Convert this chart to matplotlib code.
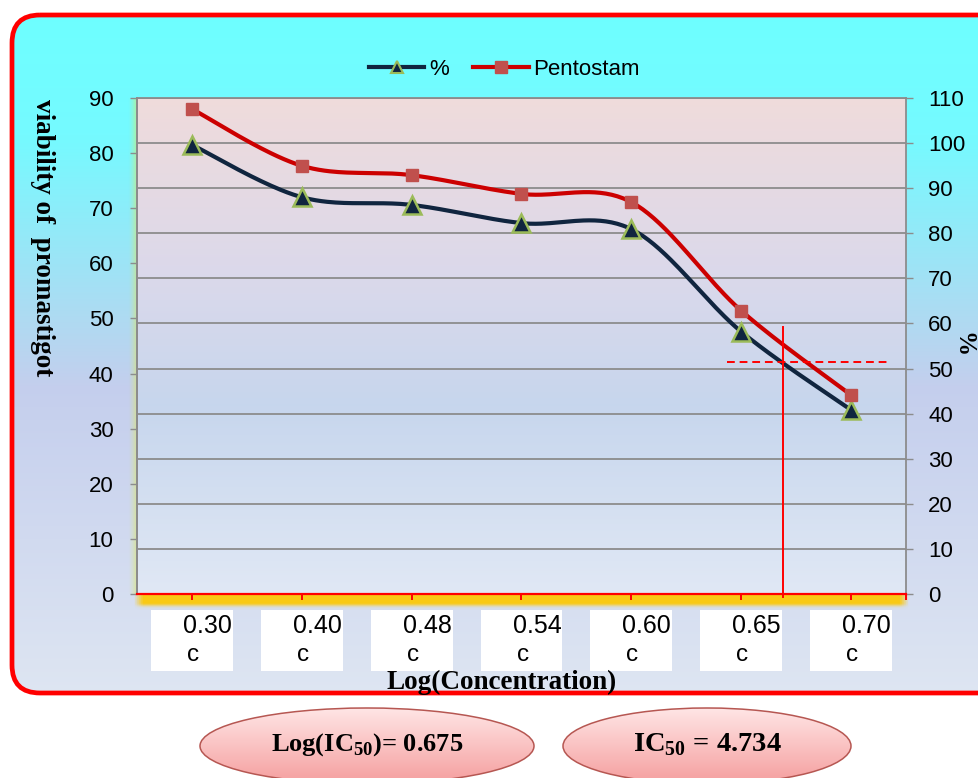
import numpy as np
import matplotlib
matplotlib.use("Agg")
import matplotlib.pyplot as plt
from matplotlib.patches import FancyBboxPatch, Ellipse, Rectangle
from matplotlib.lines import Line2D

plt.rcParams["font.family"] = ["Liberation Sans", "DejaVu Sans"]
plt.rcParams["mathtext.fontset"] = "custom"
plt.rcParams["mathtext.rm"] = "Liberation Serif:bold"
plt.rcParams["mathtext.bf"] = "Liberation Serif:bold"

# ---- data -------------------------------------------------------------
log_conc = ["0.30", "0.40", "0.48", "0.54", "0.60", "0.65", "0.70"]
viability = [81.5, 72.0, 70.6, 67.3, 66.2, 47.6, 33.4]        # "%" series
pentostam = [88.0, 77.7, 76.0, 72.6, 71.1, 51.4, 36.1]        # Pentostam series
left_ticks = list(range(0, 91, 10))
right_ticks = list(range(0, 111, 10))
half_level = 42.15          # viability level marked by the dashed line
log_ic50_text = "0.675"
ic50_text = "4.734"

NAVY = "#10253F"
RED = "#CC0000"
W, H = 979, 778


def smooth(xs, ys, n=40):
    """Catmull-Rom smoothing through the points (same scheme as a smoothed line)."""
    pts = np.column_stack([xs, ys]).astype(float)
    p = np.vstack([pts[0], pts, pts[-1]])
    out = []
    t = np.linspace(0, 1, n)[:, None]
    for i in range(1, len(p) - 2):
        p0, p1, p2, p3 = p[i - 1], p[i], p[i + 1], p[i + 2]
        seg = 0.5 * ((2 * p1) + (-p0 + p2) * t + (2 * p0 - 5 * p1 + 4 * p2 - p3) * t ** 2
                     + (-p0 + 3 * p1 - 3 * p2 + p3) * t ** 3)
        out.append(seg if i == 1 else seg[1:])
    c = np.vstack(out)
    return c[:, 0], c[:, 1]


def vgrad(stops, n=256):
    pos = np.array([s[0] for s in stops])
    cols = np.array([s[1] for s in stops])
    f = np.linspace(0, 1, n)
    rgb = np.stack([np.interp(f, pos, cols[:, k]) for k in range(3)], axis=1)
    return rgb[:, None, :]


fig = plt.figure(figsize=(W / 100, H / 100), dpi=100)
fig.patch.set_facecolor("white")

# ---- background panel, glows and result ellipses ----------------------
bg = fig.add_axes([0, 0, 1, 1], zorder=-10)
bg.axis("off")

panel = FancyBboxPatch((12, 15), 1000, 678, boxstyle="round,pad=0,rounding_size=28",
                       facecolor="none", edgecolor="#FF0000", linewidth=3.4, zorder=3)
bg.add_patch(panel)
panel_fill = vgrad([(0.0, (0.43, 1.0, 1.0)), (0.18, (0.46, 0.98, 1.0)),
                    (0.55, (0.77, 0.81, 0.93)), (1.0, (0.87, 0.90, 0.95))])
im = bg.imshow(panel_fill, extent=[12, 1012, 693, 15], aspect="auto", zorder=1)
im.set_clip_path(panel)

# gold glow under the category axis
gy = np.linspace(0, 1, 40)
gx = np.linspace(0, 1, 400)
vprof = np.where(gy < 0.55, 1.0, np.exp(-((gy - 0.55) / 0.2) ** 2))
alpha = vprof[:, None] * np.clip(np.minimum(gx, 1 - gx) / 0.012, 0, 1)[None, :]
glow = np.zeros((40, 400, 4))
glow[..., 0], glow[..., 1], glow[..., 2] = 0.98, 0.79, 0.08
glow[..., 3] = alpha
bg.imshow(glow, extent=[133, 910, 610, 594], aspect="auto", zorder=2)

# faint yellow-green glow along the left edge of the plot area
lx = np.linspace(0, 1, 20)
lglow = np.zeros((10, 20, 4))
lglow[..., 0], lglow[..., 1], lglow[..., 2] = 0.86, 0.92, 0.35
lglow[..., 3] = (lx ** 1.5)[None, :] * 0.55
bg.imshow(lglow, extent=[128, 137, 594, 98], aspect="auto", zorder=2)

ell_fill = vgrad([(0.0, (1.0, 0.90, 0.90)), (1.0, (0.96, 0.62, 0.62))])
for cx, w, txt, fs in [(367, 334, r"Log(IC$_{\mathbf{50}}$)= " + log_ic50_text, 19),
                       (707, 288, r"IC$_{\mathbf{50}}$ = " + ic50_text, 20.5)]:
    e = Ellipse((cx, 746), w, 76, facecolor="none", edgecolor="#B65752",
                linewidth=1.1, zorder=4)
    bg.add_patch(e)
    ei = bg.imshow(ell_fill, extent=[cx - w / 2, cx + w / 2, 784, 708],
                   aspect="auto", zorder=3)
    ei.set_clip_path(e)
    bg.text(cx, 745, txt, ha="center", va="center", fontsize=fs,
            family="Liberation Serif", fontweight="bold", color="black", zorder=5)

bg.set_xlim(0, W)
bg.set_ylim(H, 0)

# ---- main chart -------------------------------------------------------
ax = fig.add_axes([137 / W, 184 / H, 769 / W, 496 / H])
ax2 = ax.twinx()
ax.set_zorder(ax2.get_zorder() + 1)
ax.patch.set_visible(False)

x = np.arange(len(log_conc))
plot_fill = vgrad([(0.0, (0.94, 0.86, 0.86)), (0.35, (0.86, 0.85, 0.92)),
                   (0.62, (0.78, 0.84, 0.93)), (1.0, (0.88, 0.91, 0.96))])
ax2.imshow(plot_fill, extent=[-0.5, 6.5, 0, 110], aspect="auto", zorder=0)

ax2.set_ylim(0, 110)
ax2.set_yticks(right_ticks)
ax2.yaxis.grid(True, color="#8C8C8C", linewidth=1.3)
ax2.tick_params(axis="y", direction="out", length=5, width=1, color="#8C8C8C",
                labelsize=16, pad=11)
for s in ["left", "right", "top"]:
    ax2.spines[s].set_color("#8C8C8C")
    ax2.spines[s].set_linewidth(1.3)
ax2.spines["bottom"].set_visible(False)

ax.set_ylim(0, 90)
ax.set_yticks(left_ticks)
ax.tick_params(axis="y", direction="out", length=5, width=1, color="#8C8C8C",
               labelsize=16, pad=12)
ax.spines["left"].set_color("#8C8C8C")
ax.spines["left"].set_linewidth(1.3)
ax.spines["right"].set_visible(False)
ax.spines["top"].set_visible(False)
ax.spines["bottom"].set_color("#FF0000")
ax.spines["bottom"].set_linewidth(1.6)

ax.set_xlim(-0.5, 6.5)
ax.set_xticks(list(x) + [6.5])
ax.set_xticklabels([""] * (len(x) + 1))
ax.tick_params(axis="x", direction="out", length=4, width=1.4, color="#FF0000")

# category labels in white boxes
xt = ax.get_xaxis_transform()
for xi, lab in zip(x, log_conc):
    ax.add_patch(Rectangle((xi - 0.373, -0.155), 0.746, 0.123, transform=xt,
                           facecolor="white", edgecolor="none", clip_on=False))
    ax.text(xi + 0.14, -0.0655, lab, transform=xt, ha="center", va="center",
            fontsize=18, clip_on=False)
    ax.text(xi + 0.01, -0.122, "c", transform=xt, ha="center", va="center",
            fontsize=17.5, clip_on=False)

# series
sx, sy = smooth(x, viability)
ax.plot(sx, sy, color=NAVY, linewidth=3.0, solid_capstyle="round", zorder=3)
ax.plot(x, viability, linestyle="none", marker="^", markersize=13,
        markerfacecolor=NAVY, markeredgecolor="#9BBB59", markeredgewidth=1.8, zorder=4)
px, py = smooth(x, pentostam)
ax.plot(px, py, color=RED, linewidth=3.0, solid_capstyle="round", zorder=5)
ax.plot(x, pentostam, linestyle="none", marker="s", markersize=9,
        markerfacecolor="#C0504D", markeredgecolor="#C0504D", zorder=6)

# IC50 read-off: crossing of the viability line with the half level
i = 5
ic_x = x[i] + (viability[i] - half_level) / (viability[i] - viability[i + 1])
ax.plot([ic_x, ic_x], [-0.6, 48.4], color="#FF0000", linewidth=1.4, zorder=7,
        clip_on=False)
ax.plot([ic_x - 0.51, ic_x + 0.945], [half_level, half_level], color="#FF0000",
        linewidth=1.4, linestyle=(0, (4, 2.5)), zorder=7)

# legend
handles = [Line2D([], [], color=NAVY, linewidth=3, marker="^", markersize=9,
                  markerfacecolor=NAVY, markeredgecolor="#9BBB59", markeredgewidth=1.5),
           Line2D([], [], color=RED, linewidth=3, marker="s", markersize=8,
                  markerfacecolor="#C0504D", markeredgecolor="#C0504D")]
fig.legend(handles, ["%", "Pentostam"], loc="center", bbox_to_anchor=(0.515, 0.911),
           ncol=2, frameon=False, fontsize=16, handlelength=2.5, handletextpad=0.2,
           columnspacing=1.1)

# axis titles
fig.text(502 / W, 1 - 682 / H, "Log(Concentration)", ha="center", va="center",
         fontsize=19.5, family="Liberation Serif", fontweight="bold")
fig.text(42 / W, 1 - 238 / H, "viability of  promastigot", ha="center", va="center",
         rotation=-90, fontsize=19.5, family="Liberation Serif", fontweight="bold")
fig.text(963 / W, 1 - 345 / H, "%", ha="center", va="center", rotation=-90,
         fontsize=18, family="Liberation Serif", fontweight="bold")

fig.savefig("out.png", dpi=100)
